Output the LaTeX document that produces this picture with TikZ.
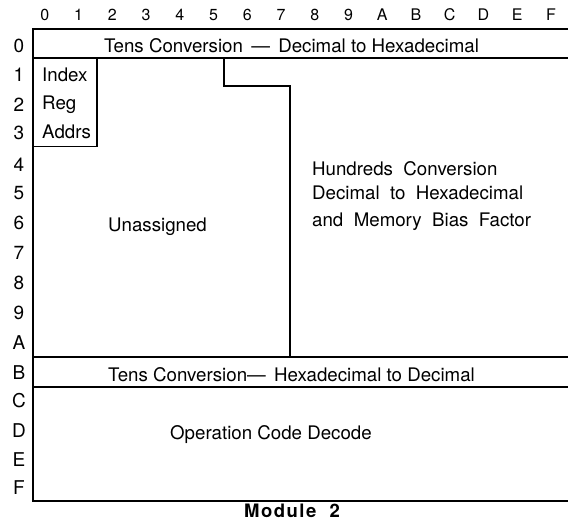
\documentclass[tikz,border=0pt]{standalone}
\usepackage{fontspec}
\setmainfont{TeX Gyre Heros}
\begin{document}
\begin{tikzpicture}[x=1pt,y=-1pt,
  lbl/.style={inner sep=0pt,font=\fontsize{18.7}{21}\selectfont},
  collbl/.style={inner sep=0pt,anchor=base,font=\fontsize{16}{18}\selectfont},
  rowlbl/.style={inner sep=0pt,anchor=base,font=\fontsize{19}{21}\selectfont},
  frame/.style={line width=1.3pt}]
\useasboundingbox (0,0) rectangle (568,526);
% column labels
\foreach \c [count=\i from 0] in {0,1,2,3,4,5,6,7,8,9,A,B,C,D,E,F}
  \node[collbl] (col\c) at (44.7+33.75*\i,21) {\c};
% row labels
\foreach \r/\y in {0/53,1/82,2/112,3/140,4/172,5/200,6/230,7/260,8/290,9/320,A/350,B/380,C/408,D/438,E/467,F/495}
  \node[rowlbl] (row\r) at (19,\y) {\r};
% frame
\coordinate (tl) at (33,29);
\coordinate (bl) at (33,501);
\draw[frame] (568,29) -- (tl) -- (bl) -- (568,501);
\draw[frame] (33,58) -- (568,58);
\draw[frame] (33,146.5) -- (97,146.5) -- (97,58);
\draw[frame] (224,58) -- (224,86) -- (290,86) -- (290,357);
\draw[frame] (33,357) -- (568,357);
\draw[frame] (33,387) -- (568,387);
% texts
\node[lbl,anchor=base] (tens1) at (291.5,53) {Tens Conversion \,--- \,Decimal to Hexadecimal};
\node[lbl,anchor=base west] (idx) at (42,82) {Index};
\node[lbl,anchor=base west] (reg) at (42,110) {Reg};
\node[lbl,anchor=base west] (adr) at (42,139) {Addrs};
\node[lbl,anchor=base west] (unas) at (108,231.5) {Unassigned};
\node[lbl,anchor=base west] (hun1) at (312,176) {Hundreds\ \ Conversion};
\node[lbl,anchor=base west] (hun2) at (312,200) {Decimal\ \ to\ \ Hexadecimal};
\node[lbl,anchor=base west] (hun3) at (312,227) {and\ \ Memory\ \ Bias\ \ Factor};
\node[lbl,anchor=base] (tens2) at (291.5,381.5) {Tens Conversion--- \,Hexadecimal to Decimal};
\node[lbl,anchor=base west] (opc) at (170,440) {Operation Code Decode};
\node[inner sep=0pt,anchor=base,font=\fontsize{18.5}{20}\selectfont\bfseries\addfontfeature{LetterSpace=8}] (mod) at (292,518) {Module\ \ 2};
\end{tikzpicture}
\end{document}
